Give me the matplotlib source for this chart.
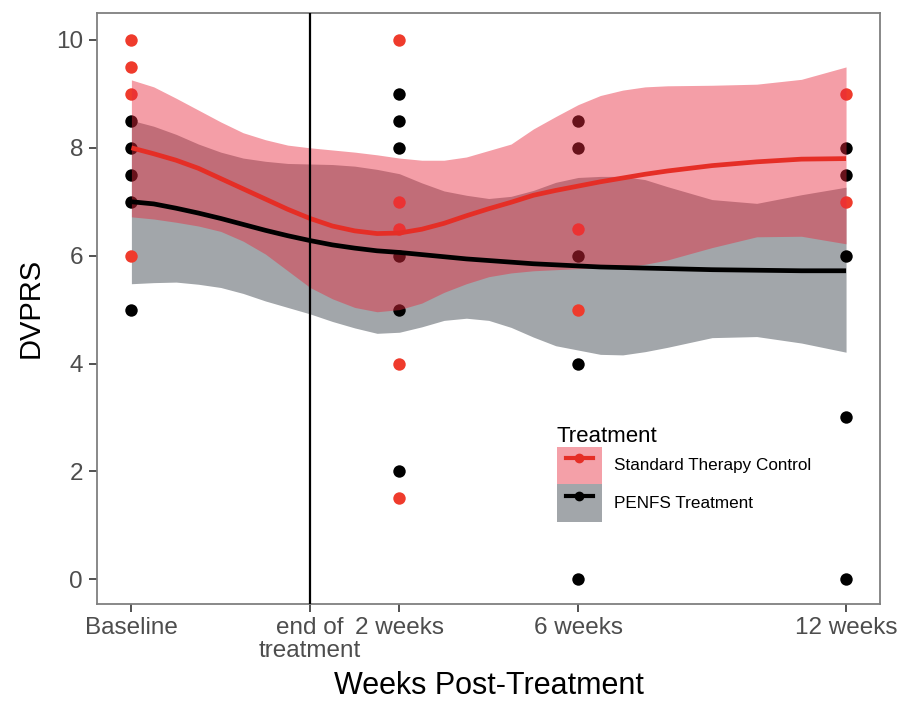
import matplotlib
matplotlib.use("Agg")
import matplotlib.pyplot as plt
from matplotlib.patches import Patch
from matplotlib.lines import Line2D
from matplotlib.legend_handler import HandlerLine2D

plt.rcParams['font.family'] = ['Liberation Sans', 'DejaVu Sans']

# x positions in weeks relative to end of treatment
tick_pos = [-4, 0, 2, 6, 12]
tick_labels = ["Baseline", "end of\ntreatment", "2 weeks", "6 weeks", "12 weeks"]

# raw observations (visible points)
control_x = [-4, -4, -4, -4, 2, 2, 2, 2, 2, 6, 6, 12, 12]
control_y = [10, 9.5, 9, 6, 10, 7, 6.5, 4, 1.5, 6.5, 5, 9, 7]
penfs_x = [-4, -4, -4, -4, -4, 2, 2, 2, 2, 2, 2, 6, 6, 6, 6, 6, 12, 12, 12, 12, 12]
penfs_y = [8.5, 8, 7.5, 7, 5, 9, 8.5, 8, 6, 5, 2, 8.5, 8, 6, 4, 0, 8, 7.5, 6, 3, 0]

# smoothed fits
fit_x = [-4, -3.5, -3, -2.5, -2, -1.5, -1, -0.5, 0, 0.5, 1, 1.5, 2, 2.5, 3,
         3.5, 4, 4.5, 5, 5.5, 6, 6.5, 7, 7.5, 8, 9, 10, 11, 12]
control_fit = [8.0, 7.89, 7.77, 7.62, 7.43, 7.24, 7.05, 6.86, 6.69, 6.55, 6.46, 6.41,
               6.42, 6.49, 6.60, 6.74, 6.87, 6.99, 7.12, 7.21, 7.29, 7.37, 7.44, 7.51,
               7.57, 7.67, 7.74, 7.79, 7.80]
control_hi = [9.26, 9.13, 8.92, 8.70, 8.48, 8.28, 8.15, 8.05, 8.00, 7.96, 7.92, 7.87,
              7.81, 7.77, 7.77, 7.83, 7.95, 8.07, 8.35, 8.58, 8.80, 8.97, 9.07, 9.13,
              9.15, 9.16, 9.18, 9.27, 9.50]
control_lo = [6.72, 6.68, 6.62, 6.55, 6.45, 6.27, 6.03, 5.72, 5.41, 5.20, 5.04, 4.96,
              5.00, 5.12, 5.32, 5.48, 5.61, 5.68, 5.72, 5.74, 5.76, 5.77, 5.79, 5.84,
              5.92, 6.15, 6.35, 6.36, 6.22]
penfs_fit = [7.0, 6.96, 6.88, 6.79, 6.69, 6.58, 6.47, 6.37, 6.28, 6.20, 6.14, 6.09,
             6.06, 6.02, 5.98, 5.94, 5.91, 5.88, 5.85, 5.83, 5.81, 5.79, 5.78, 5.77,
             5.76, 5.74, 5.73, 5.72, 5.72]
penfs_hi = [8.51, 8.40, 8.25, 8.07, 7.92, 7.81, 7.75, 7.71, 7.70, 7.69, 7.66, 7.60,
            7.52, 7.35, 7.20, 7.12, 7.06, 7.10, 7.21, 7.36, 7.45, 7.47, 7.47, 7.41,
            7.28, 7.04, 6.97, 7.13, 7.27]
penfs_lo = [5.48, 5.50, 5.51, 5.47, 5.41, 5.30, 5.16, 5.04, 4.92, 4.78, 4.66, 4.56,
            4.58, 4.68, 4.80, 4.84, 4.80, 4.67, 4.49, 4.33, 4.25, 4.17, 4.16, 4.22,
            4.30, 4.48, 4.50, 4.38, 4.21]

red = "#EF3B2C"
red_line = "#E52E26"
pink = "#E8283C"
grey = "#A2A6AA"


class ShortLine(HandlerLine2D):
    # legend line only over the middle part of the key box
    def create_artists(self, legend, orig, xdescent, ydescent, width, height, fontsize, trans):
        return super().create_artists(legend, orig, xdescent - 0.2 * width, ydescent,
                                      0.6 * width, height, fontsize, trans)


fig = plt.figure(figsize=(8.99, 7.05), dpi=100)
ax = fig.add_axes([97 / 899, 1 - 603.5 / 705, 783 / 899, 590.5 / 705])

ax.fill_between(fit_x, penfs_lo, penfs_hi, color=grey, lw=0, zorder=1)
ax.scatter(control_x, control_y, s=80, color=red, lw=0, zorder=2)
ax.scatter(penfs_x, penfs_y, s=80, color="black", lw=0, zorder=2)
ax.fill_between(fit_x, control_lo, control_hi, color=pink, alpha=0.45, lw=0, zorder=3)
ax.plot(fit_x, control_fit, color=red_line, lw=3.4, zorder=4, solid_capstyle="butt")
ax.plot(fit_x, penfs_fit, color="black", lw=3.4, zorder=4, solid_capstyle="butt")
ax.axvline(0, color="black", lw=1.6, zorder=5)

ax.set_xlim(-4.77, 12.76)
ax.set_ylim(-0.45, 10.5)
ax.set_xticks(tick_pos)
ax.set_xticklabels(tick_labels, linespacing=1.05)
ax.set_yticks([0, 2, 4, 6, 8, 10])

for s in ax.spines.values():
    s.set_color("#7F7F7F")
    s.set_linewidth(1.3)
ax.tick_params(length=6, width=1.2, color="#333333", labelcolor="#4D4D4D",
               labelsize=17.5, pad=4)

ax.set_xlabel("Weeks Post-Treatment", fontsize=22, labelpad=6)
ax.set_ylabel("DVPRS", fontsize=21, labelpad=8)

handles = [
    (Patch(facecolor="#F4A0A8", lw=0), Line2D([], [], color=red_line, lw=3, marker="o", ms=6)),
    (Patch(facecolor=grey, lw=0), Line2D([], [], color="black", lw=3, marker="o", ms=6)),
]
leg = fig.legend(handles, ["Standard Therapy Control", "PENFS Treatment"],
                 title="Treatment", loc="upper left",
                 bbox_to_anchor=(548 / 899, 1 - 417 / 705), frameon=False,
                 fontsize=12.3, title_fontsize=16, borderpad=0,
                 handlelength=2.65, handleheight=3.0, labelspacing=0,
                 handletextpad=0.7, alignment="left",
                 handler_map={Line2D: ShortLine()})

fig.savefig("out.png", dpi=100)
